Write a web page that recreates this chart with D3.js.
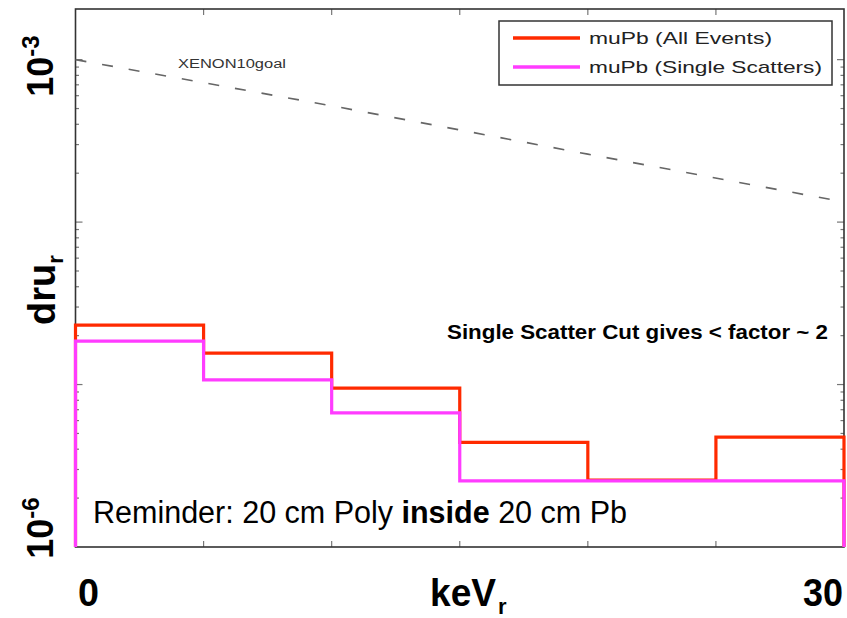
<!DOCTYPE html>
<html>
<head>
<meta charset="utf-8">
<script src="https://cdn.jsdelivr.net/npm/d3@7"></script>
<style>
  html, body { margin: 0; padding: 0; background: #fff; }
  svg { display: block; }
  .bold { font-family: "Liberation Sans Narrow", "Arial Narrow", "Liberation Sans", Arial, sans-serif; font-weight: bold; }
  .plain { font-family: "Liberation Sans Narrow", "Arial Narrow", "Liberation Sans", Arial, sans-serif; }
</style>
</head>
<body>
<script>
// Bin edges (keVr) of the recoil-energy histograms
const binEdges = [0, 5, 10, 15, 20, 25, 30];
// Rates per bin (dru_r)
const allEvents = [2.32e-5, 1.56e-5, 9.5e-6, 4.4e-6, 2.58e-6, 4.75e-6];
const singleScatters = [1.85e-5, 1.07e-5, 6.7e-6, 2.55e-6, 2.55e-6, 2.55e-6];
// XENON10 goal curve
const goalKeV = [0, 10, 20, 30];
const goalDru = [1.0e-3, 5.2e-4, 2.62e-4, 1.33e-4];
// Axis ticks
const xTicks = [5, 10, 15, 20, 25];
const yMajor = [1e-3, 1e-4, 1e-5];
const yMinor = [];
[1e-6, 1e-5, 1e-4, 1e-3].forEach(d => { for (let k = 2; k <= 9; k++) if (d * k < 2.0e-3) yMinor.push(d * k); });
// Legend entries
const seriesNames = ["muPb (All Events)", "muPb (Single Scatters)"];
const seriesColors = ["#ff2a00", "#ff3cff"];

const W = 847, H = 618;
const plotL = 75.5, plotR = 844, plotT = 9, plotB = 547;

const svg = d3.select("body").append("svg").attr("width", W).attr("height", H);
svg.append("rect").attr("width", W).attr("height", H).attr("fill", "#fff");

const x = d3.scaleLinear().domain([0, 30]).range([plotL, plotR]);
const y = d3.scaleLog().domain([1e-6, 2.05e-3]).range([plotB, plotT]);

// Tick marks on all four sides, pointing inward
const tickG = svg.append("g").attr("stroke", "#777").attr("stroke-width", 1.2);
xTicks.forEach(v => {
  tickG.append("line").attr("x1", x(v)).attr("x2", x(v)).attr("y1", plotB).attr("y2", plotB - 6);
  tickG.append("line").attr("x1", x(v)).attr("x2", x(v)).attr("y1", plotT).attr("y2", plotT + 6);
});
yMajor.forEach(v => {
  tickG.append("line").attr("x1", plotL).attr("x2", plotL + 7).attr("y1", y(v)).attr("y2", y(v));
  tickG.append("line").attr("x1", plotR).attr("x2", plotR - 7).attr("y1", y(v)).attr("y2", y(v));
});
yMinor.forEach(v => {
  tickG.append("line").attr("x1", plotL).attr("x2", plotL + 3.5).attr("y1", y(v)).attr("y2", y(v));
  tickG.append("line").attr("x1", plotR).attr("x2", plotR - 3.5).attr("y1", y(v)).attr("y2", y(v));
});

// Plot frame
svg.append("rect")
  .attr("x", plotL).attr("y", plotT)
  .attr("width", plotR - plotL).attr("height", plotB - plotT)
  .attr("fill", "none").attr("stroke", "#333").attr("stroke-width", 1.6);

// XENON10 goal (dashed)
const goalLine = d3.line().x(d => x(d[0])).y(d => y(d[1]));
svg.append("path")
  .datum(goalKeV.map((k, i) => [k, goalDru[i]]))
  .attr("d", goalLine)
  .attr("fill", "none").attr("stroke", "#666").attr("stroke-width", 1.6)
  .attr("stroke-dasharray", "11,16");

svg.append("text")
  .attr("class", "plain")
  .attr("x", 178).attr("y", 68)
  .attr("font-size", 12).attr("textLength", 108).attr("lengthAdjust", "spacingAndGlyphs")
  .attr("fill", "#333")
  .text("XENON10goal");

// Histogram stairs closed down to the baseline
function stairs(vals) {
  const pts = [[binEdges[0], 1e-6]];
  vals.forEach((v, i) => { pts.push([binEdges[i], v]); pts.push([binEdges[i + 1], v]); });
  pts.push([binEdges[binEdges.length - 1], 1e-6]);
  return pts;
}
const histLine = d3.line().x(d => x(d[0])).y(d => y(d[1]));
[allEvents, singleScatters].forEach((vals, i) => {
  svg.append("path")
    .attr("d", histLine(stairs(vals)))
    .attr("fill", "none").attr("stroke", seriesColors[i]).attr("stroke-width", 3.2)
    .attr("stroke-linejoin", "miter");
});

// Legend
const lg = svg.append("g");
lg.append("rect").attr("x", 499).attr("y", 21).attr("width", 333).attr("height", 64)
  .attr("fill", "#fff").attr("stroke", "#333").attr("stroke-width", 1.5);
const legendLens = [183, 233];
seriesNames.forEach((name, i) => {
  const yy = 38 + i * 29;
  lg.append("line").attr("x1", 513).attr("x2", 580).attr("y1", yy).attr("y2", yy)
    .attr("stroke", seriesColors[i]).attr("stroke-width", 3.5);
  lg.append("text").attr("class", "plain")
    .attr("x", 589).attr("y", yy + 6)
    .attr("font-size", 17).attr("fill", "#222")
    .attr("textLength", legendLens[i]).attr("lengthAdjust", "spacingAndGlyphs")
    .text(name);
});

// Annotations
svg.append("text").attr("class", "bold")
  .attr("x", 447).attr("y", 339)
  .attr("font-size", 21).attr("fill", "#000")
  .attr("textLength", 381).attr("lengthAdjust", "spacingAndGlyphs")
  .text("Single Scatter Cut gives < factor ~ 2");

const rem = svg.append("text").attr("class", "plain")
  .attr("x", 93).attr("y", 523)
  .attr("font-size", 31).attr("fill", "#000")
  .attr("textLength", 534).attr("lengthAdjust", "spacingAndGlyphs");
rem.append("tspan").text("Reminder: 20 cm Poly ");
rem.append("tspan").attr("font-weight", "bold").text("inside");
rem.append("tspan").text(" 20 cm Pb");

// Y tick labels (rotated powers of ten)
const yLabels = [{ v: 1e-3, exp: "-3", cy: 66 }, { v: 1e-6, exp: "-6", cy: 528 }];
yLabels.forEach(d => {
  const t = svg.append("text").attr("class", "bold")
    .attr("transform", `translate(53,${d.cy}) rotate(-90)`)
    .attr("text-anchor", "middle").attr("font-size", 36).attr("fill", "#000");
  t.append("tspan").text("10");
  t.append("tspan").attr("font-size", 24).attr("dy", -14).text(d.exp);
});

// Y axis title
const yt = svg.append("text").attr("class", "bold")
  .attr("transform", "translate(55,290) rotate(-90)")
  .attr("text-anchor", "middle").attr("font-size", 38).attr("fill", "#000");
yt.append("tspan").text("dru");
yt.append("tspan").attr("font-size", 22).attr("dy", 8).text("r");

// X tick labels and title
svg.append("text").attr("class", "bold").attr("x", x(0) + 13).attr("y", 606)
  .attr("text-anchor", "middle").attr("font-size", 39)
  .attr("textLength", 21).attr("lengthAdjust", "spacingAndGlyphs").text("0");
svg.append("text").attr("class", "bold").attr("x", x(30) - 41).attr("y", 606)
  .attr("font-size", 39)
  .attr("textLength", 40).attr("lengthAdjust", "spacingAndGlyphs").text("30");
const xt = svg.append("text").attr("class", "bold").attr("x", 430).attr("y", 606)
  .attr("font-size", 39);
xt.append("tspan").attr("textLength", 66).attr("lengthAdjust", "spacingAndGlyphs").text("keV");
xt.append("tspan").attr("font-size", 22).attr("dx", 2).attr("dy", 8).text("r");
</script>
</body>
</html>
